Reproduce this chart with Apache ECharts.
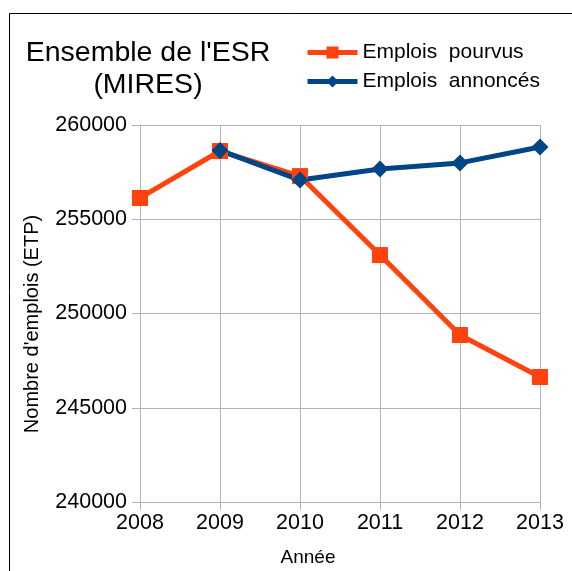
<!DOCTYPE html>
<html><head><meta charset="utf-8">
<script src="https://cdn.jsdelivr.net/npm/echarts@6/dist/echarts.min.js"></script>
<style>html,body{margin:0;padding:0;background:#fff}#c{width:572px;height:571px}</style>
</head><body><div id="c"></div>
<script>
var years = ['2008','2009','2010','2011','2012','2013'];
var pourvus = [256130, 258620, 257290, 253100, 248860, 246630];
var annonces = [null, 258650, 257080, 257670, 257990, 258830];
var seriesNames = ['Emplois  pourvus', 'Emplois  annoncés'];
var xTitle = 'Année';
var yTitle = "Nombre d'emplois (ETP)";

var chart = echarts.init(document.getElementById('c'));
var font = 'Liberation Sans, Arial, sans-serif';
chart.setOption({
  animation: false,
  backgroundColor: '#fff',
  title: {
    text: "Ensemble de l'ESR\n(MIRES)",
    left: 143, top: 32, textAlign: 'center',
    textStyle: {fontFamily: font, fontSize: 28.5, fontWeight: 'normal', color: '#000', lineHeight: 32}
  },
  legend: {
    orient: 'vertical', left: 300, top: 37, itemWidth: 50, itemHeight: 15, itemGap: 8,
    textStyle: {fontFamily: font, fontSize: 21, color: '#000'},
    lineStyle: {width: 5},
    data: seriesNames
  },
  graphic: [{
    type: 'rect', shape: {x: 9.5, y: 13.5, width: 700, height: 700},
    style: {fill: 'none', stroke: '#000', lineWidth: 1}, silent: true, z: 100
  }, {
    type: 'text', x: 308, y: 558,
    style: {text: xTitle, font: '19px Liberation Sans, Arial, sans-serif', fill: '#000', align: 'center', verticalAlign: 'middle'}
  }, {
    type: 'text', x: 32, y: 324, rotation: Math.PI / 2,
    style: {text: yTitle, font: '20px Liberation Sans, Arial, sans-serif', fill: '#000', align: 'center', verticalAlign: 'middle'}
  }],
  grid: {left: 140, right: 32, top: 125, bottom: 69},
  xAxis: {
    type: 'category', data: years, boundaryGap: false,
    axisLine: {lineStyle: {color: '#b3b3b3', width: 1}},
    axisTick: {show: true, length: 8, lineStyle: {color: '#b3b3b3'}},
    axisLabel: {fontFamily: font, fontSize: 21.5, color: '#000', margin: 10},
    splitLine: {show: true, lineStyle: {color: '#b3b3b3', width: 1}}
  },
  yAxis: {
    type: 'value', min: 240000, max: 260000, interval: 5000,
    axisLine: {show: true, lineStyle: {color: '#b3b3b3', width: 1}},
    axisTick: {show: true, length: 8, lineStyle: {color: '#b3b3b3'}},
    axisLabel: {fontFamily: font, fontSize: 21.5, color: '#000', margin: 13, formatter: function (v) { return String(v); }},
    splitLine: {show: true, lineStyle: {color: '#b3b3b3', width: 1}}
  },
  series: [{
    name: seriesNames[0], type: 'line', data: pourvus,
    symbol: 'rect', symbolSize: 16, showAllSymbol: true,
    lineStyle: {color: '#ff420e', width: 5},
    itemStyle: {color: '#ff420e'}
  }, {
    name: seriesNames[1], type: 'line', data: annonces,
    symbol: 'diamond', symbolSize: 17, showAllSymbol: true,
    lineStyle: {color: '#004586', width: 5},
    itemStyle: {color: '#004586'}
  }]
});
</script></body></html>
